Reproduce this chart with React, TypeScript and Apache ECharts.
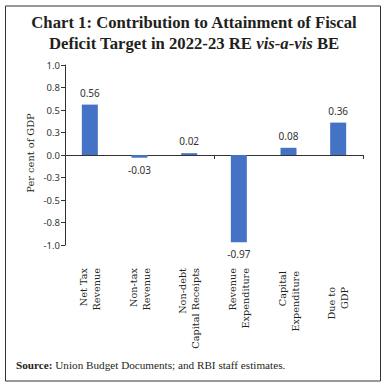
import React, { useEffect, useRef } from "react";
import * as echarts from "echarts";

const categories = [
  "Net Tax\nRevenue",
  "Non-tax\nRevenue",
  "Non-debt\nCapital Receipts",
  "Revenue\nExpenditure",
  "Capital\nExpenditure",
  "Due to\nGDP",
];
const values = [0.56, -0.03, 0.02, -0.97, 0.08, 0.36];
const yMin = -1;
const yMax = 1;
const yInterval = 0.25;

const SERIF = "'Liberation Serif', 'DejaVu Serif', serif";
const WSERIF = "'DejaVu Serif', serif";
const SANS = "'Noto Sans', 'DejaVu Sans', sans-serif";

export default function App() {
  const ref = useRef<HTMLDivElement>(null);
  useEffect(() => {
    if (!ref.current) return;
    const chart = echarts.init(ref.current, null, { renderer: "svg" });
    const labelData = categories.map((c, i) => {
      if (i === 5) return { value: c, textStyle: { padding: [0, 19, 0, 0] } };
      if (i === 4) return { value: c, textStyle: { padding: [0, 3, 0, 0] } };
      return c;
    });
    chart.setOption({
      animation: false,
      backgroundColor: "#ffffff",
      title: {
        text:
          "Chart 1: Contribution to Attainment of Fiscal\n{n|Deficit Target in 2022-23 RE }{i|vis-a-vis}{n| BE}",
        left: "center",
        top: 12,
        padding: 0,
        textStyle: {
          fontFamily: SERIF,
          fontWeight: "bold",
          fontSize: 16.7,
          lineHeight: 21,
          color: "#231f20",
          rich: {
            n: { fontFamily: SERIF, fontWeight: "bold", fontSize: 16.7, lineHeight: 21, color: "#231f20" },
            i: { fontFamily: SERIF, fontWeight: "bold", fontStyle: "italic", fontSize: 16.7, lineHeight: 21, color: "#231f20" },
          },
        },
      },
      grid: { left: 65, right: 25, top: 65, bottom: 141, containLabel: false },
      xAxis: [
        {
          type: "category",
          data: categories,
          position: "bottom",
          axisLine: { show: true, onZero: true, lineStyle: { color: "#333", width: 1 } },
          axisTick: { show: true, alignWithLabel: false, length: 4, lineStyle: { color: "#333" } },
          axisLabel: { show: false },
          splitLine: { show: false },
        },
        {
          type: "category",
          data: labelData,
          position: "bottom",
          axisLine: { show: false, onZero: false },
          axisTick: { show: false },
          axisLabel: {
            show: true,
            interval: 0,
            rotate: 90,
            margin: 23,
            fontFamily: WSERIF,
            fontSize: 9.7,
            lineHeight: 13,
            color: "#231f20",
          },
          splitLine: { show: false },
        },
      ],
      yAxis: {
        type: "value",
        min: yMin,
        max: yMax,
        interval: yInterval,
        axisLine: { show: true, lineStyle: { color: "#333", width: 1 } },
        axisTick: { show: true, length: 4, lineStyle: { color: "#333" } },
        splitLine: { show: false },
        axisLabel: {
          margin: 5,
          fontFamily: SANS,
          fontSize: 9.5,
          color: "#333",
          formatter: (v: number) => v.toFixed(1),
        },
      },
      graphic: [
        {
          type: "rect",
          shape: { x: 5.5, y: 6, width: 375, height: 375 },
          style: { fill: "none", stroke: "#333", lineWidth: 1 },
          silent: true,
        },
        {
          type: "text",
          x: 30,
          y: 153,
          rotation: Math.PI / 2,
          style: {
            text: "Per cent of GDP",
            fontFamily: WSERIF,
            fontSize: 9.8,
            fill: "#231f20",
            align: "center",
            verticalAlign: "middle",
          },
        },
        {
          type: "text",
          x: 16,
          y: 365,
          style: {
            text: "{b|Source:} Union Budget Documents; and RBI staff estimates.",
            fontFamily: SERIF,
            fontSize: 11.2,
            fill: "#231f20",
            verticalAlign: "middle",
            rich: {
              b: { fontFamily: SERIF, fontSize: 11.2, fontWeight: "bold", fill: "#231f20" },
            },
          },
        },
      ],
      series: [
        {
          type: "bar",
          xAxisIndex: 0,
          barWidth: 16,
          itemStyle: { color: "#4472c4" },
          data: values.map((v) => ({
            value: v,
            label: { position: v >= 0 ? "top" : "bottom" },
          })),
          label: {
            show: true,
            distance: 7,
            fontFamily: SANS,
            fontSize: 10,
            color: "#333",
            formatter: (p: any) => p.value.toFixed(2),
          },
        },
      ],
    });
    return () => chart.dispose();
  }, []);
  return (
    <div
      ref={ref}
      style={{ position: "fixed", left: 0, top: 0, width: 388, height: 386 }}
    />
  );
}
